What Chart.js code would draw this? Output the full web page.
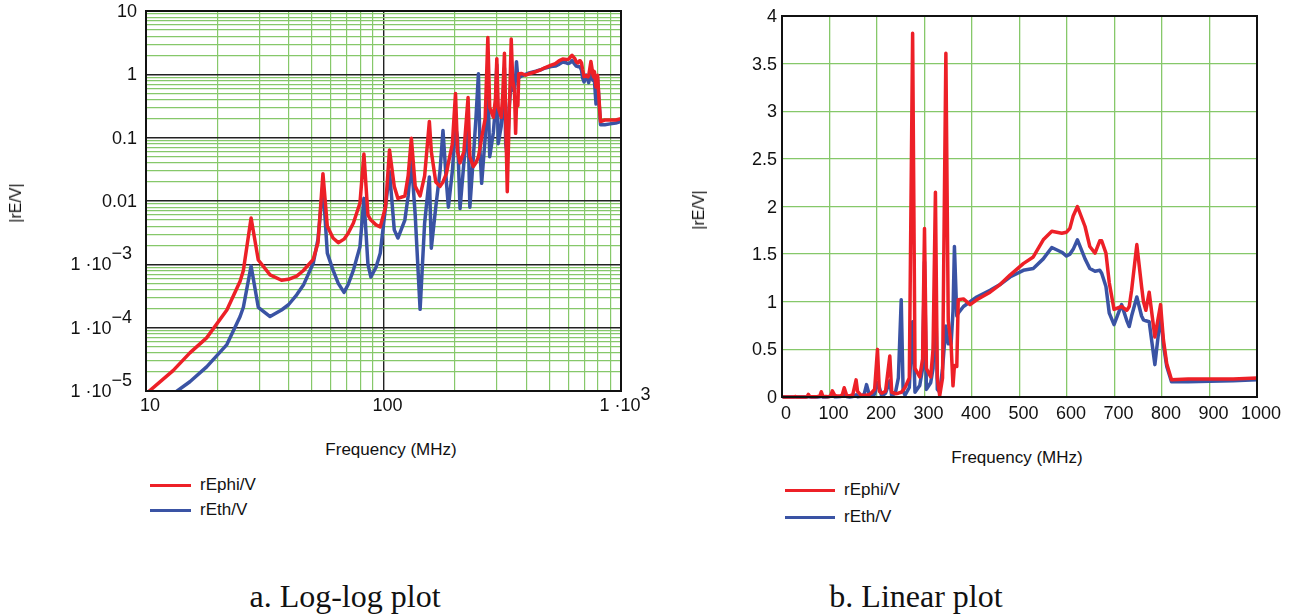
<!DOCTYPE html>
<html>
<head>
<meta charset="utf-8">
<script src="https://cdn.jsdelivr.net/npm/chart.js@4.4.1/dist/chart.umd.min.js"></script>
<style>
body { margin:0; background:#fff; width:1309px; height:615px; position:relative; overflow:hidden;
       font-family:"Liberation Sans", Arial, sans-serif; color:#111; }
canvas { position:absolute; top:0; }
#logCanvas { left:0; }
#linCanvas { left:660px; }
.ytitle { position:absolute; font-size:16px; transform:translate(-50%,-50%) rotate(-90deg); white-space:nowrap; }
.xtitle { position:absolute; font-size:17px; transform:translate(-50%,-50%); white-space:nowrap; }
.leg { position:absolute; font-size:17px; display:flex; align-items:center; transform:translateY(-50%); white-space:nowrap; }
.leg .sw { display:inline-block; width:41px; height:3px; margin-right:9px; }
.caption { position:absolute; font-family:"Liberation Serif","Times New Roman",serif; font-size:32px;
           transform:translate(-50%,-50%); white-space:nowrap; }
</style>
</head>
<body>
<canvas id="logCanvas" width="660" height="440"></canvas>
<canvas id="linCanvas" width="649" height="440"></canvas>

<div class="ytitle" style="left:16px; top:203px;">|rE/V|</div>
<div class="ytitle" style="left:699px; top:210px;">|rE/V|</div>
<div class="xtitle" style="left:391px; top:450px;">Frequency (MHz)</div>
<div class="xtitle" style="left:1017px; top:458px;">Frequency (MHz)</div>

<div class="leg" style="left:150px; top:485px;"><span class="sw" style="background:#ed2027"></span>rEphi/V</div>
<div class="leg" style="left:150px; top:510px;"><span class="sw" style="background:#3a53a4"></span>rEth/V</div>
<div class="leg" style="left:785px; top:490px;"><span class="sw" style="background:#ed2027;width:50px"></span>rEphi/V</div>
<div class="leg" style="left:785px; top:517px;"><span class="sw" style="background:#3a53a4;width:50px"></span>rEth/V</div>

<div class="caption" style="left:345px; top:596px;">a. Log-log plot</div>
<div class="caption" style="left:916px; top:596px;">b. Linear plot</div>

<script>
// DATA (frequency in MHz, |rE/V| per component)
let freqMHz = [1, 10, 13, 15.3, 18, 21.9, 24.9, 25.7, 27.7, 29.7, 33.3, 37.2, 39.8, 43.1, 46, 50.6, 53, 55.6, 58,
    61.3, 64.5, 68.2, 71, 74.7, 79.6, 82.7, 86, 88.5, 93, 96.9, 102, 106, 111, 115, 123, 127, 131, 136, 142.6,
    149, 156, 159, 166, 173, 178, 184, 187.6, 195, 201, 205, 210, 218, 227, 231, 239, 245, 251, 255, 259, 268,
    275, 280, 290, 296, 300, 304, 313, 318, 323, 327, 332, 338, 345, 350, 356, 360, 363, 368, 371, 382, 396,
    410, 438, 459, 480, 508, 529, 550, 568, 589, 599, 606, 613, 622, 638, 648, 659, 669, 673, 682, 689, 699,
    715, 726, 731, 736, 747, 757, 761, 766, 773, 785, 797, 803, 810, 820, 855, 900, 950, 1000];

let rEphi = [1e-8, 9e-6, 2.1e-5, 4e-5, 6.9e-5, 1.9e-4, 5.4e-4, 8e-4, 5.4e-3, 1.17e-3, 6.8e-4, 5.6e-4, 5.8e-4, 6.5e-4, 8e-4, 1.2e-3, 2.2e-3, 0.027, 4e-3,
    2.6e-3, 2.2e-3, 2.5e-3, 3.1e-3, 4.5e-3, 9.3e-3, 0.055, 6e-3, 5e-3, 4.2e-3, 3.9e-3, 8.1e-3, 0.064, 0.017, 0.011, 0.012, 0.025, 0.098, 0.017, 0.012,
    0.025, 0.18, 0.06, 0.02, 0.017, 0.02, 0.027, 0.04, 0.08, 0.5, 0.06, 0.04, 0.06, 0.43, 0.05, 0.035, 0.04, 0.05, 0.07, 0.1, 0.2,
    3.82, 0.3, 0.21, 0.4, 1.77, 0.3, 0.21, 0.5, 2.15, 0.2, 0.014, 0.2, 3.61, 0.8, 0.55, 0.117, 0.33, 0.32, 1.02, 1.03, 0.97,
    1.02, 1.1, 1.18, 1.28, 1.40, 1.47, 1.65, 1.74, 1.72, 1.73, 1.77, 1.9, 2.0, 1.79, 1.58, 1.51, 1.64, 1.64, 1.51, 1.2, 0.92,
    0.95, 0.91, 0.95, 1.12, 1.6, 1.16, 1.0, 0.91, 1.1, 0.63, 0.97, 0.6, 0.35, 0.18, 0.19, 0.19, 0.19, 0.2];

let rEth = [1e-9, 4e-6, 9e-6, 1.4e-5, 2.4e-5, 5.4e-5, 1.5e-4, 2.1e-4, 9.4e-4, 2.1e-4, 1.5e-4, 1.9e-4, 2.3e-4, 3.3e-4, 4.7e-4, 1.04e-3, 2.5e-3, 0.018, 1.5e-3,
    8.1e-4, 5e-4, 3.6e-4, 4.8e-4, 8.1e-4, 1.9e-3, 0.011, 1e-3, 6.3e-4, 9e-4, 1.5e-3, 8.1e-3, 0.029, 3.5e-3, 2.6e-3, 5e-3, 0.012, 0.044, 6e-3, 1.95e-4,
    4.5e-3, 0.024, 1.8e-3, 8e-3, 0.03, 0.13, 0.02, 8e-3, 0.03, 0.15, 0.1, 7.6e-3, 0.04, 0.17, 8e-3, 0.05, 0.2, 1.02, 0.06, 0.019, 0.1,
    0.79, 0.05, 0.12, 0.3, 1.42, 0.08, 0.15, 0.3, 1.26, 0.08, 0.05, 0.3, 0.745, 0.56, 0.56, 0.9, 1.58, 0.85, 0.88, 0.95, 1.0,
    1.05, 1.12, 1.18, 1.26, 1.33, 1.35, 1.45, 1.57, 1.52, 1.48, 1.5, 1.55, 1.65, 1.45, 1.35, 1.32, 1.33, 1.3, 1.16, 0.88, 0.76,
    0.97, 0.8, 0.74, 0.85, 1.05, 0.85, 0.81, 0.8, 0.79, 0.34, 0.86, 0.55, 0.32, 0.16, 0.16, 0.165, 0.17, 0.18];

// TICK LABELS  [value, text, superscript]
let logXLabels = [[10, "10", ""], [100, "100", ""], [1000, "1 \u00b710", "3"]];
let logYLabels = [[10, "10", ""], [1, "1", ""], [0.1, "0.1", ""], [0.01, "0.01", ""],
    [1e-3, "1 \u00b710", "\u22123"], [1e-4, "1 \u00b710", "\u22124"], [1e-5, "1 \u00b710", "\u22125"]];
let linXLabels = [0, 100, 200, 300, 400, 500, 600, 700, 800, 900, 1000];
let linYLabels = [0, 0.5, 1, 1.5, 2, 2.5, 3, 3.5, 4];

const RED = "#ed2027";
const BLUE = "#3a53a4";
const GREEN = "#86c86a";

function pairs(ys) {
    return freqMHz.map((f, i) => ({ x: f, y: ys[i] }));
}

function isDecade(v) {
    let l = Math.log10(v);
    return Math.abs(l - Math.round(l)) < 1e-6;
}

// 1..9 x 10^n ticks for the log grid
function decadeTicks(lo, hi) {
    let t = [];
    for (let e = lo; e < hi; e++)
        for (let m = 1; m < 10; m++) t.push({ value: m * Math.pow(10, e) });
    t.push({ value: Math.pow(10, hi) });
    return t;
}

function drawText(ctx, main, sup, x, y, align) {
    let wm = ctx.measureText(main).width;
    let ws = sup ? ctx.measureText(sup).width : 0;
    let x0 = align === "right" ? x - wm - ws - (sup ? 5 : 0) : x - (wm + ws) / 2;
    ctx.fillText(main, x0, y);
    if (sup) ctx.fillText(sup, x0 + wm, y - 11);
}

// frame + tick labels, placed through the chart's own scales
const axisText = {
    id: "axisText",
    afterDraw(chart, args, o) {
        let ctx = chart.ctx, a = chart.chartArea;
        let xs = chart.scales.x, ys = chart.scales.y;
        ctx.save();
        ctx.strokeStyle = "#111";
        ctx.lineWidth = 2;
        ctx.strokeRect(a.left, a.top, a.right - a.left, a.bottom - a.top);
        ctx.fillStyle = "#111";
        ctx.font = o.font;
        ctx.textBaseline = "alphabetic";
        o.x.forEach(l => drawText(ctx, l[1], l[2], xs.getPixelForValue(l[0]) + o.xShift, a.bottom + o.xGap, "center"));
        o.y.forEach(l => drawText(ctx, l[1], l[2], a.left - o.yGap, ys.getPixelForValue(l[0]) + 6, "right"));
        ctx.restore();
    }
};

function lineSet(label, ys, color, clip) {
    return {
        label, data: pairs(ys), borderColor: color, backgroundColor: color,
        borderWidth: 3.5, pointRadius: 0, tension: 0, borderJoinStyle: "round", clip
    };
}

// LOG-LOG CHART
new Chart(document.getElementById("logCanvas"), {
    type: "line",
    data: { datasets: [lineSet("rEphi/V", rEphi, RED, 0), lineSet("rEth/V", rEth, BLUE, 0)] },
    plugins: [axisText],
    options: {
        responsive: false, animation: false,
        layout: { padding: { left: 146, top: 11, right: 39, bottom: 49 } },
        plugins: {
            legend: { display: false }, tooltip: { enabled: false },
            axisText: { font: '18px "Liberation Sans", Arial, sans-serif', x: logXLabels, y: logYLabels, xShift: 4, xGap: 20, yGap: 9 }
        },
        scales: {
            x: {
                type: "logarithmic", min: 10, max: 1000,
                afterBuildTicks: s => { s.ticks = decadeTicks(1, 3); },
                ticks: { display: false },
                border: { display: false },
                grid: { drawTicks: false, color: c => isDecade(c.tick.value) ? "#222" : GREEN, lineWidth: c => isDecade(c.tick.value) ? 1.4 : 1.2 }
            },
            y: {
                type: "logarithmic", min: 1e-5, max: 10,
                afterBuildTicks: s => { s.ticks = decadeTicks(-5, 1); },
                ticks: { display: false },
                border: { display: false },
                grid: { drawTicks: false, color: c => isDecade(c.tick.value) ? "#222" : GREEN, lineWidth: c => isDecade(c.tick.value) ? 1.4 : 1.2 }
            }
        }
    }
});

// LINEAR CHART
new Chart(document.getElementById("linCanvas"), {
    type: "line",
    data: { datasets: [lineSet("rEphi/V", rEphi, RED, 3), lineSet("rEth/V", rEth, BLUE, 3)] },
    plugins: [axisText],
    options: {
        responsive: false, animation: false,
        layout: { padding: { left: 122, top: 16, right: 52, bottom: 43 } },
        plugins: {
            legend: { display: false }, tooltip: { enabled: false },
            axisText: {
                font: '18px "Liberation Sans", Arial, sans-serif',
                x: linXLabels.map(v => [v, String(v), ""]),
                y: linYLabels.map(v => [v, String(v), ""]),
                xShift: 4, xGap: 22, yGap: 5
            }
        },
        scales: {
            x: {
                type: "linear", min: 0, max: 1000,
                afterBuildTicks: s => { s.ticks = linXLabels.map(v => ({ value: v })); },
                ticks: { display: false },
                border: { display: false },
                grid: { drawTicks: false, color: GREEN, lineWidth: 1.3 }
            },
            y: {
                type: "linear", min: 0, max: 4,
                afterBuildTicks: s => { s.ticks = linYLabels.map(v => ({ value: v })); },
                ticks: { display: false },
                border: { display: false },
                grid: { drawTicks: false, color: GREEN, lineWidth: 1.3 }
            }
        }
    }
});
</script>
</body>
</html>
